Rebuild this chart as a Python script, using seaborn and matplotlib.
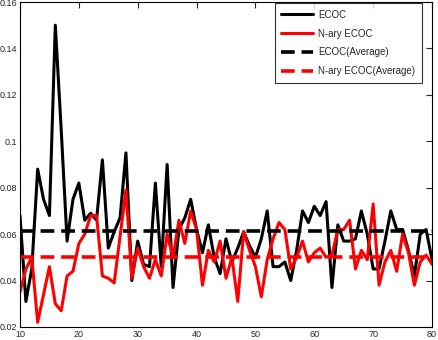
import numpy as np
import pandas as pd
import matplotlib
matplotlib.use("Agg")
import matplotlib.pyplot as plt
import seaborn as sns

# values (error rate per number of classifiers)
n_classifiers = list(range(10, 81))
ecoc = [0.068, 0.031, 0.045, 0.088, 0.075, 0.068, 0.150, 0.105, 0.057, 0.075,
        0.082, 0.066, 0.069, 0.066, 0.092, 0.054, 0.061, 0.067, 0.095, 0.040,
        0.057, 0.047, 0.046, 0.082, 0.046, 0.090, 0.037, 0.062, 0.067, 0.075,
        0.062, 0.052, 0.064, 0.050, 0.043, 0.058, 0.048, 0.054, 0.061, 0.055,
        0.050, 0.058, 0.070, 0.046, 0.046, 0.048, 0.040, 0.053, 0.070, 0.065,
        0.072, 0.068, 0.074, 0.037, 0.064, 0.057, 0.057, 0.058, 0.070, 0.060,
        0.045, 0.045, 0.057, 0.070, 0.062, 0.062, 0.053, 0.042, 0.060, 0.062,
        0.049]
nary_ecoc = [0.035, 0.045, 0.050, 0.022, 0.034, 0.046, 0.030, 0.027, 0.042, 0.044,
             0.056, 0.060, 0.068, 0.068, 0.042, 0.041, 0.039, 0.059, 0.079, 0.041,
             0.054, 0.046, 0.041, 0.049, 0.042, 0.060, 0.050, 0.066, 0.056, 0.070,
             0.062, 0.038, 0.053, 0.048, 0.057, 0.041, 0.050, 0.031, 0.061, 0.053,
             0.046, 0.033, 0.049, 0.058, 0.065, 0.062, 0.045, 0.050, 0.057, 0.048,
             0.052, 0.054, 0.050, 0.051, 0.062, 0.062, 0.066, 0.045, 0.053, 0.049,
             0.073, 0.038, 0.048, 0.053, 0.044, 0.060, 0.052, 0.038, 0.048, 0.051,
             0.047]
ecoc_avg = 0.0613
nary_avg = 0.0502

sns.set_style("white")
plt.rcParams['font.family'] = ['Liberation Sans', 'DejaVu Sans']

fig = plt.figure(figsize=(4.38, 3.40), dpi=100)
ax = fig.add_axes([20 / 438, 13 / 340, 412 / 438, 325 / 340])

sns.lineplot(x=n_classifiers, y=ecoc, color='black', linewidth=2.2, label='ECOC', ax=ax)
sns.lineplot(x=n_classifiers, y=nary_ecoc, color='red', linewidth=2.2, label='N-ary ECOC', ax=ax)
ax.axhline(ecoc_avg, color='black', linestyle=(0, (3.8, 1.9)), linewidth=2.6, label='ECOC(Average)')
ax.axhline(nary_avg, color='red', linestyle=(0, (3.8, 1.9)), linewidth=2.6, label='N-ary ECOC(Average)')

ax.set_xlim(10, 80)
ax.set_ylim(0.02, 0.16)
ax.set_xticks(range(10, 81, 10))
ax.set_yticks([0.02, 0.04, 0.06, 0.08, 0.1, 0.12, 0.14, 0.16])
ax.set_yticklabels(['0.02', '0.04', '0.06', '0.08', '0.1', '0.12', '0.14', '0.16'])
ax.tick_params(direction='in', length=4, width=0.8, labelsize=6.5,
               top=True, right=True, pad=2)
for s in ax.spines.values():
    s.set_linewidth(0.8)
    s.set_color('black')

leg = ax.legend(loc='upper right', bbox_to_anchor=(0.976, 0.997), fontsize=7,
                frameon=True, fancybox=False, borderaxespad=0, handlelength=3.3,
                labelspacing=0.9, borderpad=0.7, handletextpad=0.5)
leg.get_frame().set_edgecolor('black')
leg.get_frame().set_linewidth(0.8)

fig.savefig('out.png', dpi=100)
